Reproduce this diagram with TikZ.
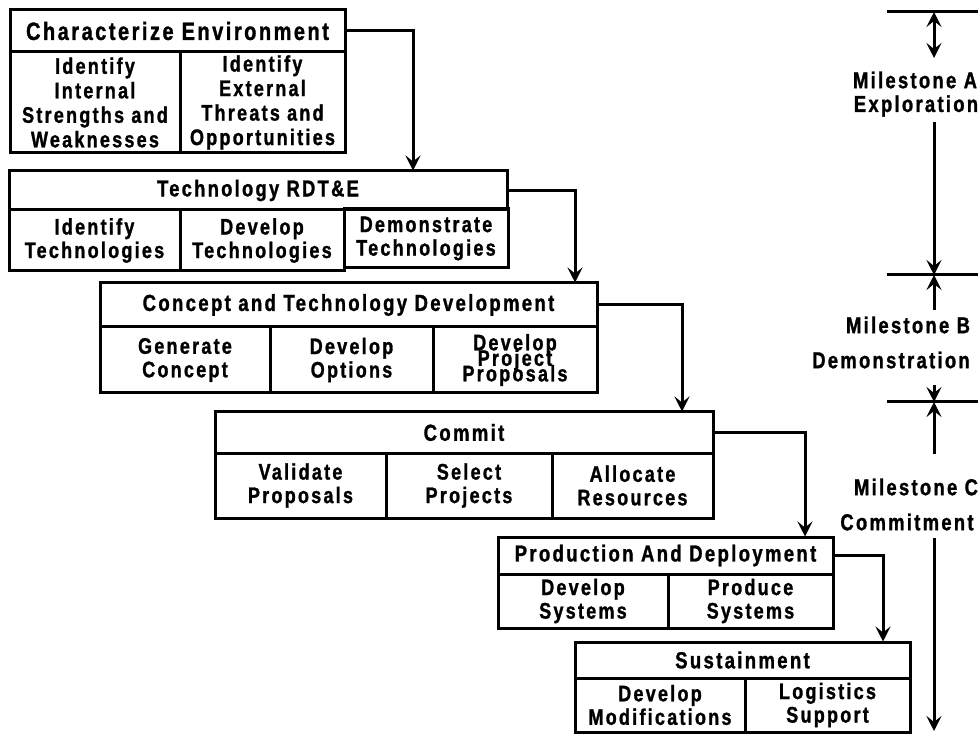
\documentclass[tikz,border=0pt]{standalone}
\usepackage{fontspec}
\setmainfont{Liberation Sans}[FakeStretch=0.8, LetterSpace=10, BoldFeatures={FakeBold=1.2}]
\usetikzlibrary{arrows.meta}
\newcommand\mytightlines{\lineskiplimit=-50pt\relax}
\begin{document}
\begin{tikzpicture}[x=1pt,y=-1pt,
  hdr/.style={draw, line width=3pt, inner sep=0pt, align=center, font=\bfseries\fontsize{23.2}{27}\selectfont},
  sub/.style={draw, line width=3pt, inner sep=0pt, align=center, font=\bfseries\fontsize{22.5}{23.5}\selectfont},
  ms/.style={inner sep=0pt, font=\bfseries\fontsize{23}{27}\selectfont},
  conn/.style={line width=3pt, -{Stealth[length=15pt,width=15pt,inset=6pt]}},
  both/.style={line width=3pt, {Stealth[length=15pt,width=15pt,inset=6pt]}-{Stealth[length=15pt,width=15pt,inset=6pt]}},
  rule/.style={line width=3pt}
]
\useasboundingbox[fill=white] (0,0) rectangle (978,735);

% Box 1
\node[hdr, minimum width=335pt, minimum height=42pt, font=\bfseries\fontsize{25}{28}\selectfont] (ce) at (177.5,31) {Characterize Environment};
\node[sub, minimum width=170pt, minimum height=101pt, font=\bfseries\fontsize{22.5}{24.5}\selectfont] (ce1) at (95,102.5) {Identify\\Internal\\Strengths and\\Weaknesses};
\node[sub, minimum width=165pt, minimum height=101pt, font=\bfseries\fontsize{22.5}{24.5}\selectfont] (ce2) at (262.5,102.5) {Identify\\External\\Threats and\\Opportunities};

% Box 2
\node[hdr, minimum width=498pt, minimum height=39pt, font=\bfseries\fontsize{22.9}{26}\selectfont] (te) at (258,190.5) {Technology RDT\&E};
\node[sub, minimum width=171pt, minimum height=61pt] (te1) at (94.5,240.5) {Identify\\Technologies};
\node[sub, minimum width=164pt, minimum height=61pt] (te2) at (262,240.5) {Develop\\Technologies};
\node[sub, minimum width=164pt, minimum height=59pt] (te3) at (426,238.5) {Demonstrate\\Technologies};

% Box 3
\node[hdr, minimum width=497pt, minimum height=44pt] (cd) at (348.5,305) {Concept and Technology Development};
\node[sub, minimum width=170pt, minimum height=66pt] (cd1) at (185,360) {Generate\\Concept};
\node[sub, minimum width=163pt, minimum height=66pt] (cd2) at (351.5,360) {Develop\\Options};
\node[sub, minimum width=164pt, minimum height=66pt, font=\bfseries\fontsize{22.5}{15.5}\selectfont\mytightlines] (cd3) at (515,360) {Develop\\Project\\Proposals};

% Box 4
\node[hdr, minimum width=498pt, minimum height=41pt] (cm) at (464,432.5) {Commit};
\node[sub, minimum width=171pt, minimum height=65pt] (cm1) at (300.5,485.5) {Validate\\Proposals};
\node[sub, minimum width=166pt, minimum height=65pt] (cm2) at (469,485.5) {Select\\Projects};
\node[sub, minimum width=161pt, minimum height=65pt] (cm3) at (632.5,485.5) {Allocate\\Resources};

% Box 5
\node[hdr, minimum width=335pt, minimum height=37pt] (pd) at (665.5,555.5) {Production And Deployment};
\node[sub, minimum width=170pt, minimum height=54pt] (pd1) at (583,601) {Develop\\Systems};
\node[sub, minimum width=165pt, minimum height=54pt] (pd2) at (750.5,601) {Produce\\Systems};

% Box 6
\node[hdr, minimum width=335pt, minimum height=36pt] (su) at (742.5,660) {Sustainment};
\node[sub, minimum width=170pt, minimum height=54pt] (su1) at (660,705) {Develop\\Modifications};
\node[sub, minimum width=165pt, minimum height=54pt] (su2) at (827.5,705) {Logistics\\Support};

% Connectors
\draw[conn] (ce.east) -| ([xshift=155pt,yshift=-1pt]te.north);
\draw[conn] (te.east) -| ([xshift=226.5pt,yshift=-1pt]cd.north);
\draw[conn] (cd.east) -| ([xshift=218pt,yshift=-1pt]cm.north);
\draw[conn] (cm.east) -| ([xshift=139.5pt,yshift=-1pt]pd.north);
\draw[conn] (pd.east) -| ([xshift=140.5pt,yshift=-1pt]su.north);

% Milestone scale
\coordinate (lAw) at (887,12);  \coordinate (lAe) at (980,12);
\coordinate (lBw) at (887,275); \coordinate (lBe) at (980,275);
\coordinate (lCw) at (887,402); \coordinate (lCe) at (980,402);
\coordinate (tA) at (934,12);
\coordinate (tB) at (934,275);
\coordinate (tC) at (934,402);
\coordinate (a1) at (934,58);
\coordinate (a2) at (934,122);
\coordinate (a3) at (934,310);
\coordinate (a4) at (934,385);
\coordinate (a5) at (934,454);
\coordinate (a6) at (934,538);
\coordinate (a7) at (934,731);

\draw[rule] (lAw) -- (lAe);
\draw[rule] (lBw) -- (lBe);
\draw[rule] (lCw) -- (lCe);

\node[ms] (mA) at (915,80) {Milestone A};
\node[ms] (xA) at (916,106) {Exploration};
\node[ms] (mB) at (908,325) {Milestone B};
\node[ms] (xB) at (891,360) {Demonstration};
\node[ms] (mC) at (916,487) {Milestone C};
\node[ms] (xC) at (907,522) {Commitment};

\draw[both] (tA) -- (a1);
\draw[conn] (a2) -- (tB);
\draw[conn] (a3) -- (tB);
\draw[conn] (a4) -- (tC);
\draw[conn] (a5) -- (tC);
\draw[conn] (a6) -- (a7);
\end{tikzpicture}
\end{document}
